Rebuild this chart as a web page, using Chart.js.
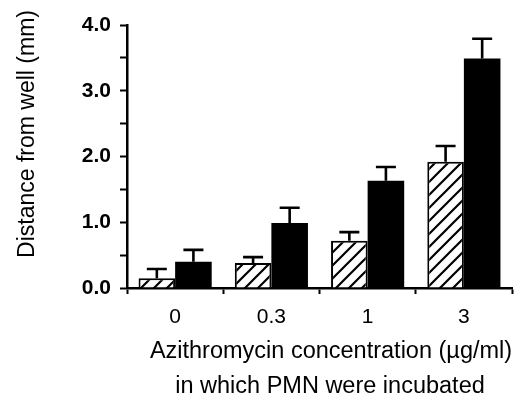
<!DOCTYPE html>
<html>
<head>
<meta charset="utf-8">
<script src="https://cdn.jsdelivr.net/npm/chart.js@4"></script>
<style>
  html, body { margin: 0; padding: 0; background: #fff; }
  #wrap { width: 525px; height: 402px; }
</style>
</head>
<body>
<div id="wrap"><canvas id="barChart" width="525" height="402"></canvas></div>
<script>
// data
const concentrations = ["0", "0.3", "1", "3"];
const hatchedMeans = [0.15, 0.38, 0.72, 1.92];
const hatchedErrors = [0.14, 0.09, 0.13, 0.24];
const solidMeans = [0.40, 0.99, 1.63, 3.49];
const solidErrors = [0.18, 0.23, 0.21, 0.30];
const yTicks = [0, 0.5, 1, 1.5, 2, 2.5, 3, 3.5, 4];
const xTitleLines = ["Azithromycin concentration (\u00b5g/ml)", "in which PMN were incubated"];
const yTitleText = "Distance from well (mm)";

const FONT = "'Liberation Sans', Arial, Helvetica, sans-serif";

// diagonal hatch fill
function makeHatch() {
  const size = 13;
  const c = document.createElement("canvas");
  c.width = size;
  c.height = size;
  const g = c.getContext("2d");
  g.fillStyle = "#fff";
  g.fillRect(0, 0, size, size);
  g.strokeStyle = "#000";
  g.lineWidth = 2.2;
  g.beginPath();
  g.moveTo(-2, size + 2);
  g.lineTo(size + 2, -2);
  g.moveTo(-2, 2);
  g.lineTo(2, -2);
  g.moveTo(size - 2, size + 2);
  g.lineTo(size + 2, size - 2);
  g.stroke();
  return g.createPattern(c, "repeat");
}

// upward-only error bars with caps
const errorBars = {
  id: "errorBars",
  afterDatasetsDraw(chart) {
    const ctx = chart.ctx;
    const yScale = chart.scales.y;
    chart.data.datasets.forEach((ds, i) => {
      const meta = chart.getDatasetMeta(i);
      meta.data.forEach((bar, j) => {
        const top = yScale.getPixelForValue(ds.data[j] + ds.errors[j]);
        ctx.save();
        ctx.strokeStyle = "#000";
        ctx.lineWidth = 2.6;
        ctx.beginPath();
        ctx.moveTo(bar.x, bar.y);
        ctx.lineTo(bar.x, top);
        ctx.moveTo(bar.x - 10, top);
        ctx.lineTo(bar.x + 10, top);
        ctx.stroke();
        ctx.restore();
      });
    });
  },
};

// axis titles placed like the original
const axisTitles = {
  id: "axisTitles",
  afterDraw(chart) {
    const ctx = chart.ctx;
    ctx.save();
    ctx.fillStyle = "#000";
    ctx.textAlign = "center";
    ctx.textBaseline = "middle";
    ctx.font = "23.5px " + FONT;
    ctx.fillText(xTitleLines[0], 331, 352);
    ctx.fillText(xTitleLines[1], 330, 387);
    ctx.translate(28, 134);
    ctx.rotate(-Math.PI / 2);
    ctx.font = "23px " + FONT;
    ctx.fillText(yTitleText, 0, 0);
    ctx.restore();
  },
};

const barChart = new Chart(document.getElementById("barChart"), {
  type: "bar",
  data: {
    labels: concentrations,
    datasets: [
      {
        label: "hatched",
        data: hatchedMeans,
        errors: hatchedErrors,
        backgroundColor: makeHatch(),
        borderColor: "#000",
        borderWidth: 2,
        categoryPercentage: 0.76,
        barPercentage: 1,
      },
      {
        label: "solid",
        data: solidMeans,
        errors: solidErrors,
        backgroundColor: "#000",
        borderWidth: 0,
        categoryPercentage: 0.76,
        barPercentage: 1,
      },
    ],
  },
  options: {
    responsive: false,
    animation: false,
    layout: { padding: { top: 25, right: 13, left: 0, bottom: 0 } },
    scales: {
      x: {
        grid: { drawOnChartArea: false, tickLength: 6, tickWidth: 2, tickColor: "#000" },
        border: { color: "#000", width: 2.5 },
        ticks: { color: "#000", padding: 11, font: { family: FONT, size: 21 } },
        afterFit(scale) {
          scale.height = 114;
        },
      },
      y: {
        min: 0,
        max: 4,
        afterBuildTicks(scale) {
          scale.ticks = yTicks.map((v) => ({ value: v }));
        },
        grid: { drawOnChartArea: false, tickLength: 7, tickWidth: 2, tickColor: "#000" },
        border: { color: "#000", width: 2.5 },
        ticks: {
          color: "#000",
          padding: 9,
          autoSkip: false,
          font: { family: FONT, size: 21, weight: "bold" },
          callback: (v) => (Number.isInteger(v) ? v.toFixed(1) : ""),
        },
        afterFit(scale) {
          scale.width = 127;
        },
      },
    },
    plugins: {
      legend: { display: false },
      tooltip: { enabled: false },
    },
  },
  plugins: [errorBars, axisTitles],
});
</script>
</body>
</html>
